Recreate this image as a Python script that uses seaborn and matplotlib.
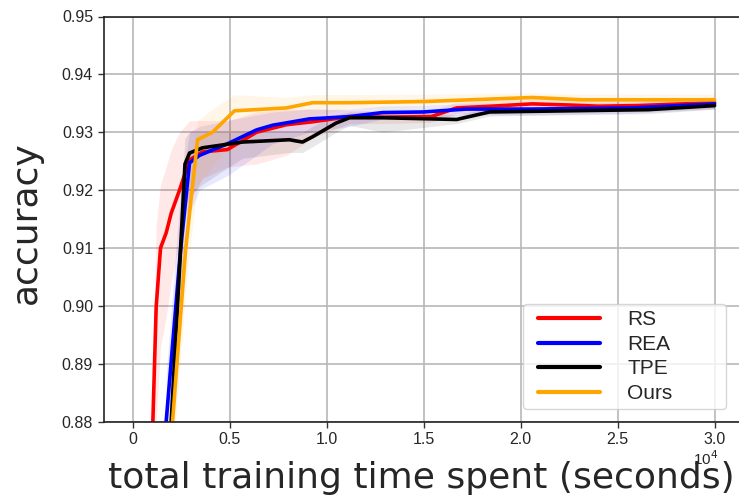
import matplotlib
matplotlib.use("Agg")
import matplotlib.pyplot as plt
import seaborn as sns
import pandas as pd
import numpy as np
from matplotlib.legend_handler import HandlerLine2D

# ---- data (time in seconds, accuracy) ----
rs_x = [1045, 1215, 1440, 1730, 1990, 2420, 2935, 3600, 4890, 6390, 7930, 9270, 11180, 13000, 15400, 16700, 18500, 20600, 22500, 24000, 26000, 30000]
rs_y = [0.880, 0.8998, 0.910, 0.9126, 0.916, 0.920, 0.9252, 0.9266, 0.927, 0.930, 0.9313, 0.9318, 0.9327, 0.9326, 0.9327, 0.9342, 0.9345, 0.9349, 0.9347, 0.9345, 0.9346, 0.9351]
rs_lo = [0.872, 0.880, 0.893, 0.898, 0.904, 0.911, 0.918, 0.922, 0.924, 0.9245, 0.926, 0.929, 0.9315, 0.9315, 0.9317, 0.9332, 0.9335, 0.9338, 0.9337, 0.9336, 0.9336, 0.9341]
rs_hi = [0.888, 0.914, 0.921, 0.924, 0.927, 0.930, 0.932, 0.932, 0.932, 0.9335, 0.934, 0.934, 0.9338, 0.9337, 0.9338, 0.9352, 0.9355, 0.9358, 0.9357, 0.9355, 0.9356, 0.9361]

rea_x = [1730, 2470, 2935, 3450, 4890, 6390, 7210, 9115, 11180, 12900, 15000, 17200, 20600, 25750, 30000]
rea_y = [0.880, 0.9096, 0.9247, 0.926, 0.928, 0.9304, 0.9312, 0.9323, 0.9327, 0.9334, 0.9335, 0.934, 0.934, 0.9342, 0.9349]
rea_lo = [0.872, 0.897, 0.916, 0.920, 0.9225, 0.926, 0.928, 0.930, 0.931, 0.9323, 0.9325, 0.933, 0.933, 0.9333, 0.934]
rea_hi = [0.888, 0.920, 0.930, 0.931, 0.932, 0.933, 0.9335, 0.934, 0.934, 0.9345, 0.9346, 0.935, 0.935, 0.9352, 0.9358]

tpe_x = [1990, 2470, 2600, 2700, 2935, 3600, 5665, 8085, 8755, 9270, 10500, 11180, 12900, 16700, 18400, 26600, 30000]
tpe_y = [0.880, 0.9096, 0.918, 0.9245, 0.9264, 0.9273, 0.9283, 0.9287, 0.9283, 0.9292, 0.9316, 0.9325, 0.9325, 0.9322, 0.9335, 0.9339, 0.9346]
tpe_lo = [0.874, 0.900, 0.910, 0.917, 0.919, 0.921, 0.9255, 0.9265, 0.9265, 0.9275, 0.930, 0.9312, 0.930, 0.9315, 0.9328, 0.9332, 0.934]
tpe_hi = [0.886, 0.918, 0.924, 0.929, 0.930, 0.930, 0.930, 0.930, 0.930, 0.931, 0.933, 0.9335, 0.9335, 0.933, 0.9342, 0.9346, 0.9352]

ours_x = [2060, 2730, 3000, 3350, 4120, 5250, 7930, 9270, 11180, 15000, 20600, 23200, 30000]
ours_y = [0.880, 0.9096, 0.918, 0.9287, 0.930, 0.9337, 0.9342, 0.9351, 0.9351, 0.9353, 0.936, 0.9356, 0.9356]
ours_lo = [0.874, 0.902, 0.911, 0.921, 0.924, 0.929, 0.931, 0.933, 0.934, 0.9345, 0.9352, 0.935, 0.935]
ours_hi = [0.886, 0.918, 0.926, 0.932, 0.934, 0.9365, 0.936, 0.9365, 0.9365, 0.9366, 0.9368, 0.9366, 0.9366]

labels = ["RS", "REA", "TPE", "Ours"]
colors = ["red", "blue", "black", "orange"]
y_ticks = [0.88, 0.89, 0.90, 0.91, 0.92, 0.93, 0.94, 0.95]
x_ticks = [0, 5000, 10000, 15000, 20000, 25000, 30000]
x_ticklabels = ["0", "0.5", "1.0", "1.5", "2.0", "2.5", "3.0"]

series = [(rs_x, rs_y, rs_lo, rs_hi), (rea_x, rea_y, rea_lo, rea_hi),
          (tpe_x, tpe_y, tpe_lo, tpe_hi), (ours_x, ours_y, ours_lo, ours_hi)]


class IndentedLineHandler(HandlerLine2D):
    """Legend line drawn with a small indent on its left side."""
    def create_artists(self, legend, orig_handle, xdescent, ydescent, width, height, fontsize, trans):
        artists = super().create_artists(legend, orig_handle, xdescent, ydescent, width, height, fontsize, trans)
        for a in artists:
            xd = np.array(a.get_xdata(), dtype=float)
            if len(xd) >= 2:
                start = xd[0] + 0.13 * width
                xd = np.linspace(start, xd[-1], len(xd))
                a.set_xdata(xd)
        return artists


sns.set_style("white")
plt.rcParams["font.family"] = ["Liberation Sans", "DejaVu Sans"]

fig = plt.figure(figsize=(7.39, 4.99), dpi=100)
ax = fig.add_axes([103.5 / 739, 1 - 421.5 / 499, 646 / 739, 405 / 499])

for (xs, ys, lo, hi), lab, c in zip(series, labels, colors):
    ax.fill_between(xs, lo, hi, color=c, alpha=0.09, linewidth=0)

for (xs, ys, lo, hi), lab, c in zip(series, labels, colors):
    df = pd.DataFrame({"time": xs, "acc": ys, "method": lab})
    sns.lineplot(data=df, x="time", y="acc", color=c, linewidth=2.6, label=lab, ax=ax, sort=False)

ax.set_xlim(-1500, 31800)
ax.set_ylim(0.88, 0.95)
ax.set_yticks(y_ticks)
ax.set_yticklabels([f"{v:.2f}" for v in y_ticks])
ax.set_xticks(x_ticks)
ax.set_xticklabels(x_ticklabels)
ax.tick_params(axis="both", labelsize=11.5, length=4, width=1, color="#333333", direction="out",
               left=True, bottom=True)
ax.grid(True, color="#b8b8b8", linewidth=1.2)
for s in ax.spines.values():
    s.set_color("#222222")
    s.set_linewidth(1.2)
ax.spines["right"].set_visible(False)

ax.set_xlabel("total training time spent (seconds)", fontsize=26, family="DejaVu Sans")
ax.xaxis.label.set_horizontalalignment("left")
ax.xaxis.set_label_coords(108 / 739, 1 - 478 / 499, transform=fig.transFigure)
ax.xaxis.label.set_verticalalignment("center")
ax.set_ylabel("accuracy", fontsize=26, family="DejaVu Sans")
ax.yaxis.set_label_coords(26 / 739, 1 - 223 / 499, transform=fig.transFigure)
ax.yaxis.label.set_verticalalignment("center")
fig.text(706 / 739, 1 - 459 / 499, "10$^4$", fontsize=11, ha="center", va="center")

handles, labs = ax.get_legend_handles_labels()
leg = ax.legend(handles, labs, loc="upper left",
                bbox_to_anchor=(523 / 739, 1 - 407 / 499, 203 / 739, 103 / 499),
                bbox_transform=fig.transFigure, mode="expand", borderaxespad=0,
                fontsize=15, handlelength=3.41, handletextpad=1.3, labelspacing=0.27, borderpad=0.3,
                frameon=True, fancybox=True, framealpha=0.8, edgecolor="#cccccc",
                handler_map={h: IndentedLineHandler() for h in handles})
for h in leg.get_lines():
    h.set_linewidth(3)

fig.savefig("out.png", dpi=100)
